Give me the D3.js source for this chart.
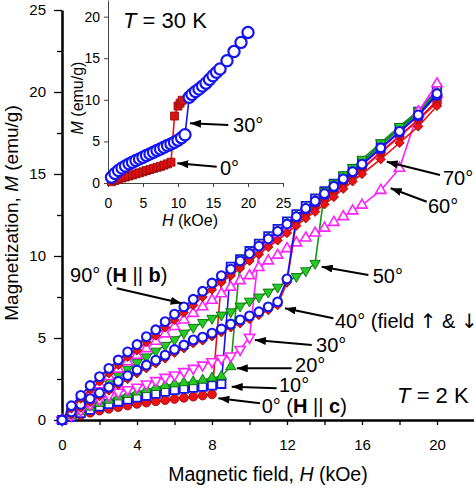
<!DOCTYPE html>
<html><head><meta charset="utf-8">
<script src="https://cdn.jsdelivr.net/npm/d3@7/dist/d3.min.js"></script>
<style>
body{margin:0;background:#fff;}
svg{display:block;overflow:hidden;}
text{font-family:"Liberation Sans",Arial,Helvetica,sans-serif;}
</style>
</head><body>
<svg id="c" width="474" height="488"></svg>
<script>
// ---------------- DATA ----------------
// Main panel (T = 2 K): field H (kOe), magnetization M (emu/g)
const fields = [0,0.5,1,1.5,2,2.5,3,3.5,4,4.5,5,5.5,6,6.5,7,7.5,8,8.5,9,9.5,10,10.5,11,11.5,12,12.5,13,13.5,14,14.5,15,15.5,16,17,18,19,20];
const m0deg  = [0,0.15,0.3,0.44,0.57,0.68,0.78,0.88,0.98,1.06,1.14,1.21,1.28,1.35,1.42,1.49,1.56,8.5,8.95,9.45,9.9,10.35,10.8,11.25,11.7,12.15,12.6,13.05,13.5,13.95,14.4,14.85,15.3,16.3,17.3,18.3,19.35];
const m10deg = [0,0.2,0.42,0.62,0.82,0.98,1.12,1.25,1.37,1.48,1.6,1.72,1.83,1.9,1.97,2.03,2.1,2.2,9.35,9.8,10.3,10.75,11.2,11.65,12.1,12.55,13.05,13.5,13.95,14.4,14.85,15.3,15.75,16.8,17.8,18.8,20.15];
const m20deg = [0,0.25,0.5,0.78,1.0,1.2,1.4,1.55,1.7,1.85,1.98,2.1,2.2,2.27,2.33,2.43,2.56,2.66,3.25,9.75,10.2,10.65,11.1,11.55,12.0,12.45,12.95,13.4,13.85,14.3,14.8,15.25,15.7,16.75,17.75,18.7,19.95];
const m30deg = [0,0.3,0.6,0.95,1.25,1.5,1.7,1.85,2.0,2.2,2.4,2.6,2.75,2.95,3.15,3.35,3.55,3.75,3.9,4.3,5.04,10.25,10.75,11.2,11.65,12.1,12.6,13.05,13.5,13.95,14.45,14.9,15.35,16.35,17.35,18.3,19.5];
const m40up  = [0,0.5,0.95,1.3,1.65,2.0,2.35,2.7,3.05,3.35,3.65,3.95,4.3,4.57,4.88,5.05,5.3,5.55,5.85,6.1,6.35,6.6,6.9,7.2,8.6,12.35,12.85,13.3,13.75,14.2,14.65,15.1,15.55,16.55,17.55,18.55,19.8];
const m40down= [0,0.35,0.75,1.1,1.45,1.8,2.15,2.5,2.85,3.15,3.45,3.75,4.1,4.37,4.68,4.85,5.1,5.35,5.65,5.9,6.15,6.4,6.7,7.0,8.4,12.1,12.6,13.05,13.5,13.95,14.4,14.85,15.3,16.3,17.3,18.3,19.5];
const m50deg = [0,0.5,1.0,1.45,1.9,2.3,2.7,3.1,3.5,3.85,4.2,4.55,4.9,5.3,5.65,5.95,6.2,6.4,6.6,6.95,7.25,7.5,7.8,8.1,8.45,8.75,9.1,9.55,13.95,14.45,14.95,15.4,15.9,16.9,17.9,18.85,20.0];
const m60deg = [0,0.55,1.1,1.6,2.15,2.65,3.1,3.55,3.95,4.35,4.8,5.25,5.7,6.1,6.5,6.9,7.3,7.7,8.1,8.5,8.8,9.3,9.7,10.05,10.45,10.8,11.1,11.4,11.7,12.05,12.4,12.75,13.1,14.0,15.35,18.8,20.5];
const m70deg = [0,0.7,1.3,1.85,2.35,2.85,3.35,3.85,4.25,4.75,5.15,5.65,6.1,6.55,7.0,7.5,7.95,8.4,8.8,9.25,9.7,10.1,10.55,10.95,11.4,11.85,12.3,12.7,13.15,13.6,14.1,14.55,15.0,15.9,16.9,17.9,19.15];
const m90deg = [0,0.87,1.5,2.1,2.64,3.15,3.66,4.15,4.6,5.08,5.5,6.0,6.45,6.9,7.36,7.85,8.35,8.8,9.2,9.7,10.15,10.6,11.05,11.5,11.95,12.4,12.9,13.35,13.8,14.25,14.7,15.15,15.6,16.6,17.6,18.6,19.9];

const xTickValues = [0,2,4,6,8,10,12,14,16,18,20];
const xTickLabels = ["0","","4","","8","","12","","16","","20"];
const yTickValues = [0,2.5,5,7.5,10,12.5,15,17.5,20,22.5,25];
const yTickLabels = ["0","","5","","10","","15","","20","","25"];

// Inset (T = 30 K)
const insetH30 = [0.5,1,1.5,2,2.5,3,3.5,4,4.5,5,5.5,6,6.5,7,7.5,8,8.5,9,9.5,10,10.5,11,11.6,12,12.5,13,13.5,14,14.5,15,15.5,16,17,18,19,20];
const insetM30 = [0.7,1.15,1.5,1.8,2.05,2.3,2.5,2.7,2.9,3.1,3.3,3.5,3.7,3.9,4.1,4.3,4.5,4.7,4.9,5.15,5.45,5.8,10.3,10.65,11.0,11.3,11.65,12.0,12.45,12.9,13.3,13.7,14.7,15.8,16.9,18.1];
const insetH0 = [0.5,1,1.5,2,2.5,3,3.5,4,4.5,5,5.5,6,6.5,7,7.5,8,8.5,9,9.5,10,10.3,10.6];
const insetM0 = [0.15,0.3,0.45,0.6,0.72,0.85,0.97,1.1,1.22,1.35,1.5,1.62,1.75,1.88,2.0,2.15,2.3,2.5,8.05,9.25,9.6,9.95];
const insetXTicks = [0,5,10,15,20,25];
const insetYTicks = [0,5,10,15,20];

// ---------------- LAYOUT / STYLE ----------------
const BLUE = "#1414f0", RED = "#ee1111", DRED = "#8a0a0a", GREEN = "#22cc22", DGREEN = "#0d6a0d", MAG = "#ff22ff";
const svg = d3.select("#c");
const x = d3.scaleLinear().domain([0,22]).range([62,474.5]);
const y = d3.scaleLinear().domain([0,25]).range([420,10]);
const xi = d3.scaleLinear().domain([0,25]).range([108,283]);
const yi = d3.scaleLinear().domain([0,22]).range([183,0]);

// arrow marker
svg.append("defs").append("marker").attr("id","ah")
  .attr("viewBox","0 0 11 8").attr("refX",11).attr("refY",4)
  .attr("markerWidth",11).attr("markerHeight",8).attr("markerUnits","userSpaceOnUse")
  .attr("orient","auto").append("path").attr("d","M0,0L11,4L0,8Z").attr("fill","#000");

// main axes
const gx = svg.append("g").attr("transform","translate(0,420)")
  .call(d3.axisBottom(x).tickValues(xTickValues).tickSize(5).tickSizeOuter(0).tickPadding(14)
    .tickFormat((d,i)=>xTickLabels[i]));
const gy = svg.append("g").attr("transform","translate(62,0)")
  .call(d3.axisLeft(y).tickValues(yTickValues).tickSize(8).tickSizeOuter(0).tickPadding(8)
    .tickFormat((d,i)=>yTickLabels[i]));
[gx,gy].forEach(g=>{
  g.attr("font-family",null).attr("font-size",null);
  g.select(".domain").attr("stroke","#000").attr("stroke-width",2.5);
  g.selectAll(".tick line").attr("stroke","#000").attr("stroke-width",1.3);
  g.selectAll(".tick text").attr("font-size",15).attr("fill","#000");
});
gy.selectAll(".tick line").attr("x2",(d,i)=> yTickLabels[i]===""? -5 : -8);

// main axis titles
svg.append("text").attr("x",268).attr("y",481).attr("text-anchor","middle").attr("font-size",19.5)
  .html('Magnetic field, <tspan font-style="italic">H</tspan> (kOe)');
svg.append("text").attr("transform","translate(18,213) rotate(-90)").attr("text-anchor","middle").attr("font-size",19)
  .html('Magnetization, <tspan font-style="italic">M</tspan> (emu/g)');

// symbols
function symPath(kind){
  if(kind==="circle") return d3.symbol().type(d3.symbolCircle).size(Math.PI*4.4*4.4)();
  if(kind==="square") return d3.symbol().type(d3.symbolSquare).size(8.2*8.2)();
  if(kind==="diamond") return d3.symbol().type(d3.symbolSquare).size(6.6*6.6)();
  if(kind==="tri") return d3.symbol().type(d3.symbolTriangle).size(46)();
  if(kind==="bigcircle") return d3.symbol().type(d3.symbolCircle).size(Math.PI*5.6*5.6)();
  if(kind==="smallsquare") return d3.symbol().type(d3.symbolSquare).size(8*8)();
}
function drawSeries(g, hs, ms, sx, sy, st){
  const pts = hs.map((h,i)=>[sx(h), sy(ms[i])]);
  g.append("path").attr("d", d3.line()(pts)).attr("fill","none")
    .attr("stroke", st.line).attr("stroke-width", st.lw || 1.6);
  const rot = st.rot ? ` rotate(${st.rot})` : "";
  g.append("g").selectAll("path").data(pts).enter().append("path")
    .attr("transform", d=>`translate(${d[0]},${d[1]})${rot}`)
    .attr("d", symPath(st.sym))
    .attr("fill", st.fill).attr("stroke", st.stroke).attr("stroke-width", st.sw);
}

const main = svg.append("g");
const seriesList = [
  {m:m0deg,  st:{sym:"circle",  fill:RED,   stroke:DRED,  sw:0.8, line:RED}},
  {m:m10deg, st:{sym:"square",  fill:"#fff",stroke:BLUE,  sw:1.8, line:BLUE}},
  {m:m20deg, st:{sym:"tri",     fill:GREEN, stroke:DGREEN,sw:0.9, line:"#119911"}},
  {m:m30deg, st:{sym:"tri",     fill:"#fff",stroke:MAG,   sw:1.6, line:MAG, rot:180}},
  {m:m50deg, st:{sym:"tri",     fill:GREEN, stroke:DGREEN,sw:0.9, line:"#119911", rot:180}},
  {m:m60deg, st:{sym:"tri",     fill:"#fff",stroke:MAG,   sw:1.6, line:MAG}},
  {m:m40down,st:{sym:"diamond", fill:RED,   stroke:DRED,  sw:0.8, line:RED, rot:45}},
  {m:m40up,  st:{sym:"circle",  fill:"#fff",stroke:BLUE,  sw:2.1, line:BLUE}},
  {m:m70deg, st:{sym:"diamond", fill:RED,   stroke:DRED,  sw:0.8, line:RED, rot:45}},
  {m:m90deg, st:{sym:"circle",  fill:"#fff",stroke:BLUE,  sw:2.1, line:BLUE}}
];
seriesList.forEach(s=>drawSeries(main, fields, s.m, x, y, s.st));

// annotations (positions in data units)
function arrow(sx, sy, from, to){
  const x1=sx(from[0]), y1=sy(from[1]), x2=sx(to[0]), y2=sy(to[1]);
  svg.append("line").attr("x1",x1).attr("y1",y1).attr("x2",x2).attr("y2",y2)
    .attr("stroke","#000").attr("stroke-width",2).attr("marker-end","url(#ah)");
}
function label(sx, sy, at, html, size){
  svg.append("text").attr("x",sx(at[0])).attr("y",sy(at[1])).attr("font-size",size||20).html(html);
}
const notes = [
  {t:'90° (<tspan font-weight="bold">H</tspan> || <tspan font-weight="bold">b</tspan>)', at:[0.43,8.43], a:[[2.92,8.03],[6.38,7.12]]},
  {t:'70°', at:[20.32,14.33], a:[[20.16,14.94],[17.32,15.75]]},
  {t:'60°', at:[19.52,12.62], a:[[19.45,13.31],[17.53,14.13]]},
  {t:'50°', at:[16.57,8.35], a:[[16.34,8.84],[13.85,9.35]]},
  {t:'40° (field <tspan font-family="DejaVu Sans">↑</tspan> &amp; <tspan font-family="DejaVu Sans">↓</tspan>)', at:[14.56,5.59], a:[[14.47,6.2],[11.89,6.81]]},
  {t:'30°', at:[13.55,4.16], a:[[13.32,4.57],[10.29,4.88]]},
  {t:'20°', at:[12.43,2.95], a:[[12.25,3.15],[9.32,3.15]]},
  {t:'10°', at:[11.57,1.73], a:[[11.45,1.93],[9.05,2.03]]},
  {t:'0° (<tspan font-weight="bold">H</tspan> || <tspan font-weight="bold">c</tspan>)', at:[10.65,0.41], a:[[10.56,1.02],[8.34,1.32]]}
];
notes.forEach(n=>{ arrow(x,y,n.a[0],n.a[1]); label(x,y,n.at,n.t,20); });
label(x,y,[17.87,1.04],'<tspan font-style="italic">T</tspan> = 2 K',22);

// ---------------- INSET ----------------
const gxi = svg.append("g").attr("transform","translate(0,183)")
  .call(d3.axisBottom(xi).tickValues(insetXTicks).tickSize(4).tickSizeOuter(0).tickPadding(11));
const gyi = svg.append("g").attr("transform","translate(108,0)")
  .call(d3.axisLeft(yi).tickValues(insetYTicks).tickSize(4).tickSizeOuter(0).tickPadding(4));
[gxi,gyi].forEach(g=>{
  g.attr("font-family",null).attr("font-size",null);
  g.select(".domain").attr("stroke","#444").attr("stroke-width",1);
  g.selectAll(".tick line").attr("stroke","#444");
  g.selectAll(".tick text").attr("font-size",14).attr("fill","#000");
});
svg.append("text").attr("x",190).attr("y",226).attr("text-anchor","middle").attr("font-size",16)
  .html('<tspan font-style="italic">H</tspan> (kOe)');
svg.append("text").attr("transform","translate(83,98) rotate(-90)").attr("text-anchor","middle").attr("font-size",16)
  .html('<tspan font-style="italic">M</tspan> (emu/g)');

const inset = svg.append("g");
drawSeries(inset, insetH0, insetM0, xi, yi, {sym:"smallsquare", fill:"#dd1111", stroke:DRED, sw:0.8, line:RED});
drawSeries(inset, insetH30, insetM30, xi, yi, {sym:"bigcircle", fill:"#fff", stroke:BLUE, sw:2.2, line:BLUE});

arrow(xi,yi,[17.19,6.97],[11.71,7.18]);
label(xi,yi,[17.86,6.17],'30°',20);
arrow(xi,yi,[15.53,1.96],[9.9,2.37]);
label(xi,yi,[16,0.96],'0°',20);
label(xi,yi,[2.15,18.63],'<tspan font-style="italic">T</tspan> = 30 K',22);
</script>
</body></html>
